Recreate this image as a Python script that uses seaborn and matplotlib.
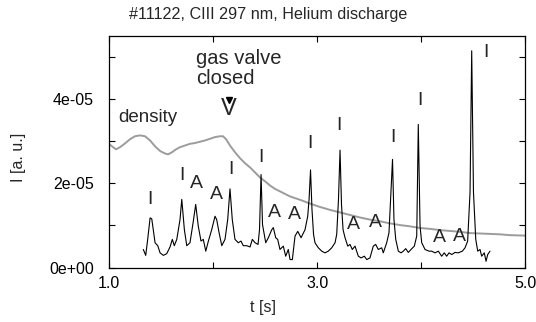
import numpy as np
import pandas as pd
import matplotlib
matplotlib.use("Agg")
import matplotlib.pyplot as plt
from matplotlib.ticker import FixedLocator, FuncFormatter
import seaborn as sns

# CIII 297 nm signal (I in units of 1e-5 a.u.)
t_ciii = [1.327, 1.350, 1.369, 1.392, 1.408, 1.423, 1.440, 1.466, 1.488, 1.520,
          1.552, 1.584, 1.606, 1.625, 1.649, 1.680, 1.697, 1.722, 1.745, 1.776,
          1.808, 1.831, 1.856, 1.882, 1.904, 1.928, 1.953, 1.985, 2.017, 2.033,
          2.056, 2.082, 2.113, 2.139, 2.161, 2.183, 2.209, 2.241, 2.267, 2.289,
          2.322, 2.354, 2.376, 2.402, 2.431, 2.445, 2.460, 2.474, 2.505, 2.530,
          2.563, 2.578, 2.601, 2.620, 2.642, 2.674, 2.697, 2.722, 2.739, 2.761,
          2.787, 2.813, 2.845, 2.883, 2.909, 2.922, 2.936, 2.950, 2.965, 2.979,
          3.011, 3.044, 3.075, 3.107, 3.140, 3.172, 3.188, 3.205, 3.220, 3.234,
          3.249, 3.268, 3.294, 3.316, 3.338, 3.364, 3.396, 3.422, 3.454, 3.477,
          3.508, 3.540, 3.563, 3.588, 3.621, 3.636, 3.669, 3.691, 3.710, 3.725,
          3.739, 3.756, 3.781, 3.807, 3.829, 3.852, 3.877, 3.903, 3.935, 3.958,
          3.973, 3.990, 4.006, 4.038, 4.076, 4.102, 4.134, 4.166, 4.198, 4.223,
          4.246, 4.269, 4.295, 4.326, 4.358, 4.397, 4.423, 4.448, 4.471, 4.487,
          4.504, 4.526, 4.545, 4.567, 4.583, 4.608, 4.625, 4.641, 4.663]
i_ciii = [0.43, 0.29, 0.67, 1.18, 1.16, 0.90, 0.59, 0.52, 0.35, 0.29,
          0.33, 0.49, 0.67, 0.52, 0.67, 1.14, 1.62, 0.90, 0.52, 0.59,
          1.10, 1.50, 0.98, 0.63, 0.67, 0.39, 0.63, 0.90, 1.22, 1.14,
          0.83, 0.52, 0.67, 1.14, 1.87, 1.14, 0.67, 0.59, 0.63, 0.52,
          0.52, 0.49, 0.67, 0.59, 0.55, 0.90, 2.21, 1.02, 0.59, 0.71,
          0.90, 0.95, 0.71, 0.67, 0.43, 0.51, 0.27, 0.43, 0.19, 0.19,
          0.75, 0.86, 0.71, 0.90, 1.22, 1.62, 2.32, 1.38, 0.79, 0.59,
          0.47, 0.39, 0.35, 0.39, 0.47, 0.59, 0.79, 1.62, 2.79, 1.50,
          0.90, 0.71, 0.51, 0.55, 0.43, 0.51, 0.27, 0.23, 0.27, 0.19,
          0.23, 0.51, 0.55, 0.43, 0.47, 0.35, 0.59, 0.83, 1.79, 2.57,
          1.14, 0.67, 0.39, 0.35, 0.39, 0.45, 0.36, 0.43, 0.51, 0.75,
          3.40, 0.98, 0.59, 0.43, 0.39, 0.39, 0.35, 0.39, 0.27, 0.35,
          0.27, 0.35, 0.31, 0.36, 0.35, 0.39, 0.47, 0.63, 1.79, 5.15,
          1.79, 0.67, 0.39, 0.43, 0.27, 0.35, 0.15, 0.31, 0.39]

# density trace, drawn on the same axis
t_dens = [1.000, 1.036, 1.064, 1.103, 1.151, 1.199, 1.247, 1.295, 1.343, 1.392,
          1.440, 1.488, 1.536, 1.565, 1.603, 1.642, 1.680, 1.728, 1.776, 1.825,
          1.873, 1.921, 1.969, 2.017, 2.065, 2.094, 2.123, 2.161, 2.209, 2.257,
          2.305, 2.354, 2.402, 2.450, 2.498, 2.546, 2.594, 2.642, 2.739, 2.835,
          2.931, 3.027, 3.124, 3.220, 3.316, 3.412, 3.508, 3.604, 3.701, 3.797,
          3.893, 3.989, 4.085, 4.182, 4.278, 4.374, 4.470, 4.566, 4.663, 4.759,
          4.855, 5.000]
i_dens = [2.93, 2.86, 2.81, 2.86, 2.95, 3.05, 3.12, 3.14, 3.12, 3.02,
          2.88, 2.77, 2.71, 2.69, 2.74, 2.81, 2.86, 2.90, 2.94, 2.96,
          2.99, 3.02, 3.06, 3.10, 3.12, 3.12, 3.05, 2.90, 2.74, 2.60,
          2.48, 2.38, 2.26, 2.14, 2.05, 1.95, 1.87, 1.81, 1.69, 1.61,
          1.52, 1.44, 1.37, 1.31, 1.25, 1.19, 1.14, 1.10, 1.05, 1.01,
          0.98, 0.94, 0.92, 0.89, 0.87, 0.85, 0.82, 0.81, 0.80, 0.79,
          0.77, 0.76]

# peak labels: ionisation (I) and "A" peaks
t_lab_i = [1.392, 1.697, 2.171, 2.460, 2.931, 3.213, 3.727, 3.990, 4.624]
y_lab_i = [1.62, 2.19, 2.32, 2.62, 2.94, 3.37, 3.08, 3.98, 5.12]
t_lab_a = [1.841, 2.033, 2.585, 2.777, 3.348, 3.563, 4.172, 4.365]
y_lab_a = [2.00, 1.74, 1.30, 1.26, 1.02, 1.06, 0.71, 0.73]

scale = 1e-5
df_ciii = pd.DataFrame({"t": t_ciii, "I": np.array(i_ciii) * scale})
df_dens = pd.DataFrame({"t": t_dens, "I": np.array(i_dens) * scale})

sns.set_style("ticks")
plt.rcParams["font.family"] = ["Liberation Sans", "DejaVu Sans"]

fig = plt.figure(figsize=(5.36, 3.22), dpi=100)
ax = fig.add_axes([0.204, 0.169, 0.7755, 0.719])

sns.lineplot(data=df_dens, x="t", y="I", ax=ax, color="#9c9c9c", linewidth=1.4,
             estimator=None)
sns.lineplot(data=df_ciii, x="t", y="I", ax=ax, color="black", linewidth=0.8,
             estimator=None)

for t, y in zip(t_lab_i, y_lab_i):
    ax.text(t, y * scale, "I", fontsize=14, ha="center", va="center")
for t, y in zip(t_lab_a, y_lab_a):
    ax.text(t, y * scale, "A", fontsize=14, ha="center", va="center")

ax.text(1.087, 3.45 * scale, "density", fontsize=13.5, ha="left", va="baseline")
ax.text(1.835, 4.83 * scale, "gas valve", fontsize=14.5, ha="left", va="baseline")
ax.text(1.835, 4.37 * scale, "closed", fontsize=14.5, ha="left", va="baseline")
ax.text(2.154, 3.76 * scale, "V", fontsize=17, ha="center", va="center")
ax.plot([2.156], [3.97 * scale], marker="v", color="black", markersize=5)

ax.set_xlim(1.0, 5.0)
ax.set_ylim(0, 5.5e-5)
ax.xaxis.set_major_locator(FixedLocator([1, 2, 3, 4, 5]))
ax.xaxis.set_major_formatter(FuncFormatter(lambda v, p: "%.1f" % v if round(v) % 2 == 1 else ""))
ax.yaxis.set_major_locator(FixedLocator([0, 1e-5, 2e-5, 3e-5, 4e-5, 5e-5]))
ax.yaxis.set_major_formatter(FuncFormatter(lambda v, p: "%.0e" % v if round(v / 1e-5) % 2 == 0 else ""))
ax.tick_params(axis="both", direction="in", length=4, width=0.8, labelsize=11.5,
               top=True, right=True, colors="black")
ax.tick_params(axis="x", pad=6)
ax.tick_params(axis="y", pad=11)
for s in ax.spines.values():
    s.set_visible(True)
    s.set_linewidth(0.9)
    s.set_color("black")

ax.set_xlabel("t [s]", fontsize=11.5)
ax.set_ylabel("I [a. u.]", fontsize=11.5)
ax.xaxis.set_label_coords(0.37, -0.14)
ax.yaxis.set_label_coords(-0.2, 0.477)
fig.suptitle("#11122, CIII 297 nm, Helium discharge", fontsize=11.6,
             x=268 / 536, y=1 - 14.5 / 322, va="center")

fig.savefig("out.png", dpi=100)
